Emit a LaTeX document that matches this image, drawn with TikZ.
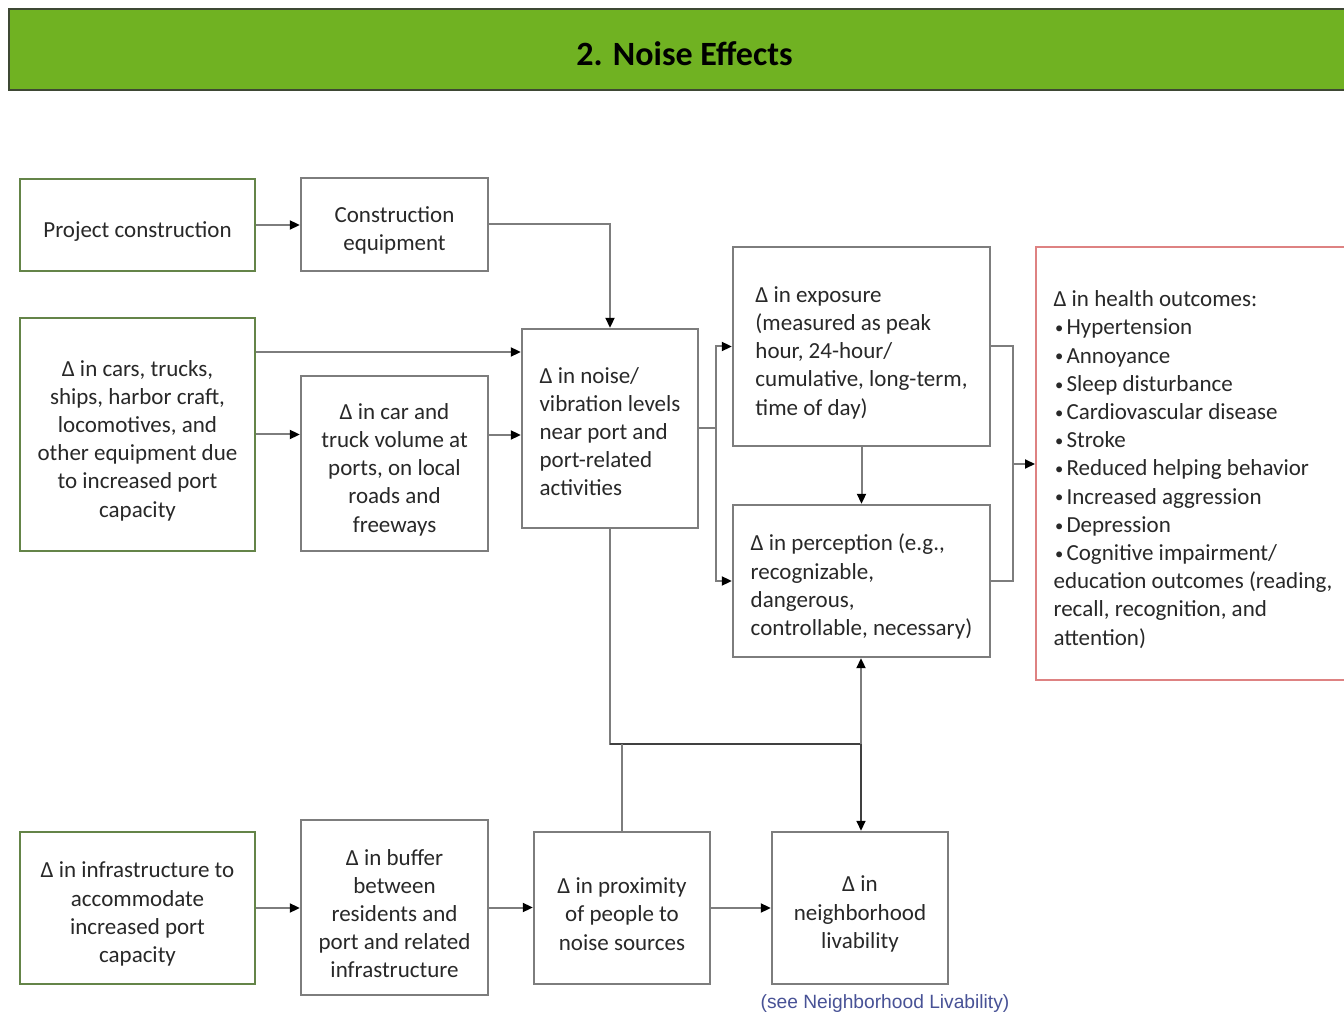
\documentclass[tikz,border=0pt]{standalone}
\usepackage{fontspec}
\setmainfont{Carlito}
\newfontfamily\notefont{Liberation Sans}
\usetikzlibrary{arrows.meta}

\definecolor{barGreen}{RGB}{112,178,34}
\definecolor{barEdge}{RGB}{62,72,52}
\definecolor{boxGray}{RGB}{125,125,125}
\definecolor{srcGreen}{RGB}{100,132,72}
\definecolor{outRed}{RGB}{222,130,130}
\definecolor{txtGray}{RGB}{40,40,40}
\definecolor{noteBlue}{RGB}{72,82,150}

\newcommand{\bodysize}{\fontsize{11.5}{14.1}\selectfont}
% tall strut on the first line, lowers the text block a little
\newcommand{\tp}{\rule{0pt}{14pt}}
% small list bullet with a fixed indent for the following word
\newcommand{\bul}{\makebox[6.5pt][l]{\hspace{0.8pt}\raisebox{0.6pt}{\scalebox{0.72}{•}}}}

\tikzset{
  box/.style={draw=boxGray, line width=1.2pt, fill=white, text=txtGray,
    font=\bodysize, align=center, inner sep=2pt},
  lbox/.style={box, align=left},
  srcbox/.style={box, draw=srcGreen},
  outbox/.style={lbox, draw=outRed, line width=1pt},
  wh/.style 2 args={minimum width=#1, minimum height=#2},
  link/.style={draw=boxGray, line width=1pt},
  arr/.style={link, -{Triangle[length=5pt,width=4.5pt,color=black]}},
  dark/.style={draw=black!75}
}

\begin{document}
\begin{tikzpicture}[x=0.5pt,y=-0.5pt]
\useasboundingbox (0,0) rectangle (1344,1015);
\clip (0,0) rectangle (1344,1015);
\fill[white] (0,0) rectangle (1344,1015);

% header bar
\node[draw=barEdge, line width=1.2pt, fill=barGreen, wh={675.5pt}{40.5pt},
  font=\bfseries\fontsize{17}{20}\selectfont, text=black]
  (title) at (684.5,49.5) {\rule{0pt}{16.2pt}2. Noise Effects};

% sources (green) and intermediate boxes
\node[srcbox, wh={117.5pt}{46pt}] (pc) at (137.5,225) {\tp Project construction};
\node[box, wh={93.5pt}{46.5pt}] (ce) at (394.5,224.5) {\tp Construction\\equipment};
\node[srcbox, wh={117.5pt}{116.5pt}] (cars) at (137.5,434.5)
  {\tp Δ in cars, trucks,\\ships, harbor craft,\\locomotives, and\\other equipment due\\to increased port\\capacity};
\node[box, wh={93.5pt}{87.5pt}] (truck) at (394.5,463.5)
  {\tp Δ in car and\\truck volume at\\ports, on local\\roads and\\freeways};
\node[lbox, wh={88pt}{99.5pt}] (noise) at (610,428.5)
  {\rule{0pt}{11pt}Δ in noise/\\vibration levels\\near port and\\port-related\\activities};
\node[lbox, wh={128.5pt}{99.5pt}] (expo) at (861.5,346.5)
  {\tp Δ in exposure\\(measured as peak\\hour, 24-hour/\\cumulative, long-term,\\time of day)};
\node[lbox, wh={128.5pt}{76pt}] (perc) at (861.5,581)
  {\tp Δ in perception (e.g.,\\recognizable,\\dangerous,\\controllable, necessary)};
\node[outbox, wh={157pt}{216.5pt}] (health) at (1193,463.5)
  {\tp Δ in health outcomes:\\\bul Hypertension\\\bul Annoyance\\\bul Sleep disturbance\\\bul Cardiovascular disease\\\bul Stroke\\\bul Reduced helping behavior\\\bul Increased aggression\\\bul Depression\\\bul Cognitive impairment/\\education outcomes (reading,\\recall, recognition, and\\attention)};

\node[srcbox, wh={117.5pt}{76pt}] (infra) at (137.5,908)
  {\tp Δ in infrastructure to\\accommodate\\increased port\\capacity};
\node[box, wh={93.5pt}{87.5pt}] (buffer) at (394.5,907.5)
  {\tp Δ in buffer\\between\\residents and\\port and related\\infrastructure};
\node[box, wh={88pt}{76pt}] (prox) at (622,908)
  {\tp Δ in proximity\\of people to\\noise sources};
\node[box, wh={88pt}{76pt}] (liv) at (860,908)
  {\tp Δ in\\neighborhood\\livability};
\node[font=\notefont\fontsize{9.6}{11}\selectfont, text=noteBlue, inner sep=0pt]
  (note) at (885,1004) {(see Neighborhood Livability)};

% junction points
\coordinate (tr) at (716,428.5);
\coordinate (hj) at (1013,464);
\coordinate (jn) at (861,744);

% connectors
\draw[arr] (pc.east) -- (pc.east -| ce.west);
\draw[arr] (ce.east) -| (noise.north);
\draw[arr] (cars.east |- 0,352) -- (noise.west |- 0,352);
\draw[arr] (cars.east) -- (cars.east -| truck.west);
\draw[arr] (truck.east |- 0,435) -- (noise.west |- 0,435);
\draw[link] (noise.east) -- (tr);
\draw[arr] (tr) |- (expo.west);
\draw[arr] (tr) |- (perc.west);
\draw[arr] (expo.south) -- (perc.north);
\draw[link] (expo.east) -| (hj) |- (perc.east);
\draw[arr] (hj) -- (hj -| health.west);
\draw[link] (noise.south) |- (jn);
\draw[link, dark] (noise.south |- jn) -- (jn);
\draw[arr] (jn) -- (jn |- perc.south);
\draw[arr, dark, line width=0.8pt] (jn) -- (jn |- liv.north);
\draw[link] (prox.north) -- (prox.north |- jn);
\draw[arr] (infra.east) -- (infra.east -| buffer.west);
\draw[arr] (buffer.east) -- (buffer.east -| prox.west);
\draw[arr] (prox.east) -- (prox.east -| liv.west);
\end{tikzpicture}
\end{document}
